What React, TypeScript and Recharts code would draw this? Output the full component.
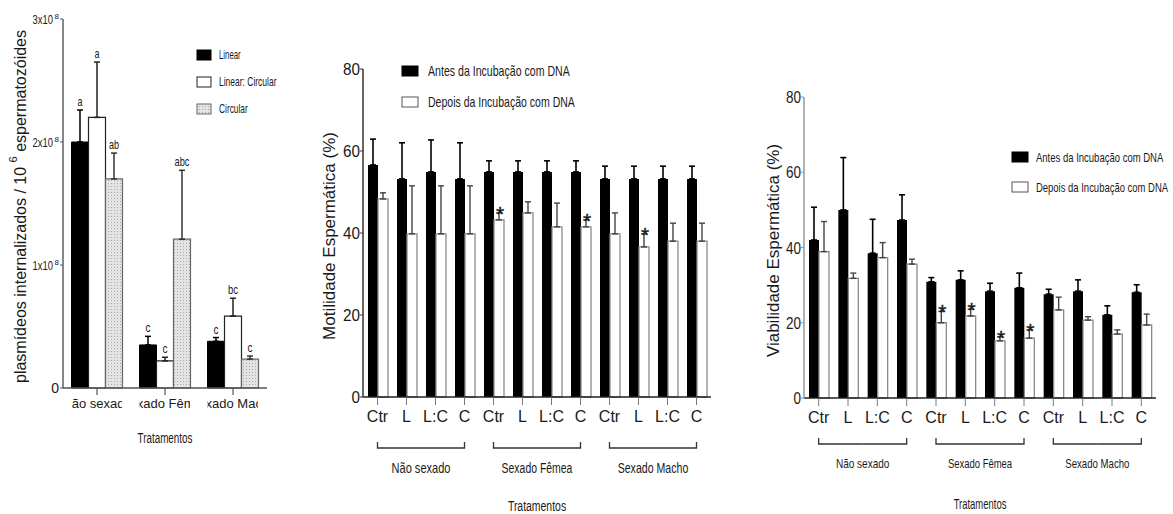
import React from "react";
import { BarChart, Bar, XAxis, YAxis, ErrorBar, LabelList, Legend, Label } from "recharts";

const FONT = "'Liberation Sans', Arial, Helvetica, sans-serif";
const INK = "#1a1a1a";

// ---------- Panel 1 data ----------
const groups1 = ["Não sexado", "Sexado Fêmea", "Sexado Macho"];
const series1 = ["Linear", "Linear: Circular", "Circular"];
const linearVals = [2.0e8, 0.35e8, 0.38e8];
const linearErr = [0.26e8, 0.07e8, 0.03e8];
const linearLetters = ["a", "c", "c"];
const linCircVals = [2.2e8, 0.22e8, 0.585e8];
const linCircErr = [0.45e8, 0.03e8, 0.145e8];
const linCircLetters = ["a", "c", "bc"];
const circVals = [1.7e8, 1.21e8, 0.235e8];
const circErr = [0.21e8, 0.56e8, 0.025e8];
const circLetters = ["ab", "abc", "c"];
const yTicks1 = [0, 1e8, 2e8, 3e8];

// ---------- Panels 2 & 3 data ----------
const treatments = ["Ctr", "L", "L:C", "C", "Ctr", "L", "L:C", "C", "Ctr", "L", "L:C", "C"];
const sexGroups = ["Não sexado", "Sexado Fêmea", "Sexado Macho"];
const series2 = ["Antes da Incubação com DNA", "Depois da Incubação com DNA"];
const pctTicks = [0, 20, 40, 60, 80];

const motAntes = [56.6, 53.2, 54.9, 53.2, 54.9, 54.9, 54.9, 54.9, 53.2, 53.2, 53.2, 53.2];
const motAntesErr = [6.3, 8.8, 7.8, 8.8, 2.7, 2.7, 2.7, 2.7, 3.1, 3.1, 3.1, 3.1];
const motDepois = [48.3, 39.8, 39.8, 39.8, 43.2, 44.9, 41.5, 41.5, 39.8, 36.6, 38.0, 38.0];
const motDepoisErr = [1.5, 11.7, 11.7, 11.7, 1.7, 2.7, 5.8, 1.7, 5.1, 3.2, 4.4, 4.4];
const motSig = ["", "", "", "", "*", "", "", "*", "", "*", "", ""];

const viaAntes = [42.0, 50.0, 38.5, 47.3, 30.9, 31.4, 28.4, 29.3, 27.6, 28.4, 22.1, 28.1];
const viaAntesErr = [8.7, 13.9, 9.0, 6.7, 1.1, 2.4, 2.1, 3.9, 1.3, 3.0, 2.4, 2.0];
const viaDepois = [38.9, 31.8, 37.3, 35.6, 20.0, 21.8, 15.2, 15.9, 23.4, 20.7, 17.0, 19.4];
const viaDepoisErr = [8.0, 1.4, 4.0, 1.3, 3.0, 1.8, 1.1, 2.2, 3.4, 0.9, 1.1, 2.9];
const viaSig = ["", "", "", "", "*", "*", "*", "*", "", "", "", ""];

const data1 = groups1.map((g, i) => ({
  group: g,
  linear: linearVals[i],
  linearE: [0, linearErr[i]],
  linearL: linearLetters[i],
  linCirc: linCircVals[i],
  linCircE: [0, linCircErr[i]],
  linCircL: linCircLetters[i],
  circ: circVals[i],
  circE: [0, circErr[i]],
  circL: circLetters[i],
}));

const mkData = (a: number[], ae: number[], d: number[], de: number[], s: string[]) =>
  treatments.map((t, i) => ({
    treat: t,
    antes: a[i],
    antesE: [0, ae[i]],
    depois: d[i],
    depoisE: [0, de[i]],
    sig: s[i],
  }));
const data2 = mkData(motAntes, motAntesErr, motDepois, motDepoisErr, motSig);
const data3 = mkData(viaAntes, viaAntesErr, viaDepois, viaDepoisErr, viaSig);

// ---------- helpers ----------
let measureCtx: CanvasRenderingContext2D | null = null;
function measure(text: string, size: number) {
  try {
    if (!measureCtx) measureCtx = document.createElement("canvas").getContext("2d");
    if (measureCtx) {
      measureCtx.font = `${size}px 'Liberation Sans', Arial, sans-serif`;
      return measureCtx.measureText(text).width;
    }
  } catch (e) {
    /* ignore */
  }
  return text.length * size * 0.52;
}

// horizontally condensed text (the original figure uses a very narrow rendering)
function SqText({ x, y, text, k, size, anchor = "start", fill = INK }: any) {
  const natural = measure(text, size);
  const s = Math.min(1, (text.length * k) / natural);
  return (
    <text
      transform={`translate(${x} ${y}) scale(${s.toFixed(3)} 1)`}
      x={0}
      y={0}
      fontSize={size}
      fontFamily={FONT}
      textAnchor={anchor}
      fill={fill}
    >
      {text}
    </text>
  );
}

const geom = (props: any) => {
  const vb = props.viewBox || {};
  return {
    x: Number(props.x ?? vb.x),
    y: Number(props.y ?? vb.y),
    w: Number(props.width ?? vb.width),
    h: Number(props.height ?? vb.height),
  };
};

const makeTopLabel = (vals: number[], errs: number[], kind: "letter" | "star") => (props: any) => {
  const i = props.index;
  const val = props.value;
  if (!val || i == null) return null;
  const { x, y, w, h } = geom(props);
  const v = vals[i];
  const e = errs[i];
  const top = y - e * (Math.abs(h) / v);
  if (kind === "star") {
    return (
      <text
        x={x + w / 2 + 1}
        y={top + 8}
        textAnchor="middle"
        fontSize={21}
        fontFamily={FONT}
        fill={INK}
        stroke={INK}
        strokeWidth={0.4}
      >
        *
      </text>
    );
  }
  return <SqText x={x + w / 2} y={top - 4} text={String(val)} k={5} size={12} anchor="middle" />;
};

// ---------- Panel 1 ticks ----------
const GroupTick1 = (props: any) => {
  const { x, y, payload, index } = props;
  const id = `p1clip${index}`;
  return (
    <g>
      <defs>
        <clipPath id={id}>
          <rect x={x - 25.5} y={y - 2} width={50.5} height={20} />
        </clipPath>
      </defs>
      <text x={x} y={y + 11} textAnchor="middle" fontSize={13} fontFamily={FONT} fill={INK} clipPath={`url(#${id})`}>
        {payload.value}
      </text>
    </g>
  );
};

const YTick1 = (props: any) => {
  const { x, y, payload } = props;
  const v = payload.value;
  if (v === 0) {
    return (
      <text x={x - 1} y={y + 5} textAnchor="end" fontSize={14} fontFamily={FONT} fill={INK}>
        0
      </text>
    );
  }
  const m = Math.round(v / 1e8);
  return (
    <g>
      <SqText x={x - 7} y={y + 5} text={`${m}x10`} k={5.1} size={13} anchor="end" />
      <text x={x - 5.5} y={y + 0} fontSize={8} fontFamily={FONT} fill={INK}>
        8
      </text>
    </g>
  );
};

const makePctTick = (k: number, size: number) => (props: any) => {
  const { x, y, payload } = props;
  const t = String(payload.value);
  return <SqText x={x} y={y + 6} text={t} k={k} size={size} anchor="end" />;
};

const makeTreatTick = (band: number, o: any) => (props: any) => {
  const { x, y, payload, index } = props;
  const kk = index % 4;
  const g = Math.floor(index / 4);
  const half = band * 1.5;
  return (
    <g>
      <text x={x} y={y + o.label} textAnchor="middle" fontSize={16} fontFamily={FONT} fill={INK}>
        {payload.value}
      </text>
      {kk === 0 && (
        <path
          d={`M${x},${y + o.bracketUp}V${y + o.bracket}H${x + half}`}
          stroke="#333"
          strokeWidth={1.3}
          fill="none"
        />
      )}
      {kk === 3 && (
        <path
          d={`M${x},${y + o.bracketUp}V${y + o.bracket}H${x - half}`}
          stroke="#333"
          strokeWidth={1.3}
          fill="none"
        />
      )}
      {kk === 1 && <SqText x={x + band / 2} y={y + o.group} text={sexGroups[g]} k={o.gk} size={o.gsize} anchor="middle" />}
    </g>
  );
};

// ---------- Legends ----------
const fills1 = ["#000", "#fff", "url(#dots)"];
const strokes1 = ["#000", "#222", "#666"];

const Legend1 = () => (
  <svg width={100} height={80} style={{ overflow: "visible" }}>
    {series1.map((s, i) => (
      <g key={s}>
        <rect x={1} y={1 + i * 27} width={14} height={10} fill={fills1[i]} stroke={strokes1[i]} strokeWidth={1} />
        <SqText x={23} y={10 + i * 27} text={s} k={3.6} size={12} />
      </g>
    ))}
  </svg>
);

const makeLegend2 = (gap: number, tx: number, k: number, size: number, w: number) => () => (
  <svg width={w} height={gap + 20} style={{ overflow: "visible" }}>
    {series2.map((s, i) => (
      <g key={s}>
        <rect
          x={1}
          y={1 + i * gap}
          width={16}
          height={10}
          fill={i === 0 ? "#000" : "#fff"}
          stroke={i === 0 ? "#000" : "#555"}
          strokeWidth={1}
        />
        <SqText x={tx} y={11 + i * gap} text={s} k={k} size={size} />
      </g>
    ))}
  </svg>
);

// ---------- Charts ----------
function Chart1() {
  return (
    <BarChart
      width={300}
      height={514}
      data={data1}
      margin={{ top: 19, right: 33, bottom: 10, left: 0 }}
      barGap={0}
      barCategoryGap="12.5%"
    >
      <defs>
        <pattern id="dots" width="3" height="3" patternUnits="userSpaceOnUse">
          <rect width="3" height="3" fill="#e4e4e4" />
          <rect width="1" height="1" fill="#a8a8a8" />
        </pattern>
      </defs>
      <XAxis
        dataKey="group"
        height={116}
        interval={0}
        tickSize={7}
        tickMargin={2}
        axisLine={{ stroke: "#555", strokeWidth: 1.4 }}
        tickLine={{ stroke: "#555", strokeWidth: 1.2 }}
        tick={GroupTick1}
      >
        <Label
          content={(p: any) => {
            const vb = p.viewBox || { x: 63, y: 388, width: 204 };
            return <SqText x={vb.x + vb.width / 2} y={vb.y + 55} text="Tratamentos" k={5} size={15} anchor="middle" />;
          }}
        />
      </XAxis>
      <YAxis
        width={63}
        domain={[0, 3e8]}
        ticks={yTicks1}
        tickSize={3}
        tickMargin={0}
        axisLine={{ stroke: "#555", strokeWidth: 1.4 }}
        tickLine={{ stroke: "#555" }}
        tick={YTick1}
      >
        <Label
          content={(p: any) => {
            const vb = p.viewBox || { y: 19, height: 369 };
            const cx = 20;
            const cy = vb.y + vb.height / 2 + 3;
            return (
              <text
                transform={`rotate(-90 ${cx} ${cy})`}
                x={cx}
                y={cy}
                textAnchor="middle"
                dominantBaseline="central"
                fontSize={16}
                fontFamily={FONT}
                fill={INK}
              >
                plasmídeos internalizados / 10{" "}
                <tspan dy={-7} fontSize={11}>
                  6
                </tspan>
                <tspan dy={7}> espermatozóides</tspan>
              </text>
            );
          }}
        />
      </YAxis>
      <Legend
        layout="vertical"
        align="center"
        verticalAlign="middle"
        wrapperStyle={{ left: 196, top: 49, width: 100, height: 80 }}
        content={() => <Legend1 />}
      />
      <Bar dataKey="linear" name={series1[0]} fill="#000" stroke="#000" isAnimationActive={false}>
        <ErrorBar dataKey="linearE" width={3} stroke="#000" strokeWidth={1.5} isAnimationActive={false} />
        <LabelList dataKey="linearL" content={makeTopLabel(linearVals, linearErr, "letter")} />
      </Bar>
      <Bar dataKey="linCirc" name={series1[1]} fill="#fff" stroke="#222" strokeWidth={1.2} isAnimationActive={false}>
        <ErrorBar dataKey="linCircE" width={3} stroke="#222" strokeWidth={1.5} isAnimationActive={false} />
        <LabelList dataKey="linCircL" content={makeTopLabel(linCircVals, linCircErr, "letter")} />
      </Bar>
      <Bar dataKey="circ" name={series1[2]} fill="url(#dots)" stroke="#666" strokeWidth={1.2} isAnimationActive={false}>
        <ErrorBar dataKey="circE" width={3} stroke="#333" strokeWidth={1.5} isAnimationActive={false} />
        <LabelList dataKey="circL" content={makeTopLabel(circVals, circErr, "letter")} />
      </Bar>
    </BarChart>
  );
}

function PctChart({
  data,
  width,
  margin,
  yWidth,
  xHeight,
  band,
  tickOpts,
  yLabel,
  yLabelX,
  yAxisStroke,
  tickK,
  tickSize,
  titleDy,
  titleK,
  titleSize,
  legendPos,
  legendContent,
  depoisVals,
  depoisErr,
}: any) {
  return (
    <BarChart width={width} height={514} data={data} margin={margin} barGap={0} barSize={10}>
      <XAxis
        dataKey="treat"
        height={xHeight}
        interval={0}
        tickSize={8}
        tickMargin={2}
        axisLine={{ stroke: "#222", strokeWidth: 1.4 }}
        tickLine={{ stroke: "#777", strokeWidth: 1 }}
        tick={makeTreatTick(band, tickOpts)}
      >
        <Label
          content={(p: any) => {
            const vb = p.viewBox || {};
            return (
              <SqText x={vb.x + vb.width / 2} y={vb.y + titleDy} text="Tratamentos" k={titleK} size={titleSize} anchor="middle" />
            );
          }}
        />
      </XAxis>
      <YAxis
        width={yWidth}
        domain={[0, 80]}
        ticks={pctTicks}
        tickSize={3}
        tickMargin={0}
        axisLine={{ stroke: yAxisStroke, strokeWidth: 1.5 }}
        tickLine={{ stroke: yAxisStroke }}
        tick={makePctTick(tickK, tickSize)}
      >
        <Label
          content={(p: any) => {
            const vb = p.viewBox || {};
            const cx = yLabelX;
            const cy = vb.y + vb.height / 2 + 3;
            return (
              <text
                transform={`rotate(-90 ${cx} ${cy})`}
                x={cx}
                y={cy}
                textAnchor="middle"
                dominantBaseline="central"
                fontSize={17}
                fontFamily={FONT}
                fill={INK}
              >
                {yLabel}
              </text>
            );
          }}
        />
      </YAxis>
      <Legend layout="vertical" align="center" verticalAlign="middle" wrapperStyle={legendPos} content={legendContent} />
      <Bar dataKey="antes" name={series2[0]} fill="#000" isAnimationActive={false}>
        <ErrorBar dataKey="antesE" width={3} stroke="#000" strokeWidth={1.6} isAnimationActive={false} />
      </Bar>
      <Bar dataKey="depois" name={series2[1]} fill="#fff" stroke="#8a8a8a" strokeWidth={1.3} isAnimationActive={false}>
        <ErrorBar dataKey="depoisE" width={3} stroke="#444" strokeWidth={1.4} isAnimationActive={false} />
        <LabelList dataKey="sig" content={makeTopLabel(depoisVals, depoisErr, "star")} />
      </Bar>
    </BarChart>
  );
}

export default function App() {
  return (
    <div
      style={{
        position: "absolute",
        left: 0,
        top: 0,
        width: 1173,
        height: 514,
        background: "#fff",
        fontFamily: FONT,
      }}
    >
      <div style={{ position: "absolute", left: 0, top: 0 }}>
        <Chart1 />
      </div>
      <div style={{ position: "absolute", left: 260, top: 0 }}>
        <PctChart
          data={data2}
          width={480}
          margin={{ top: 69, right: 29, bottom: 5, left: 0 }}
          yWidth={103}
          xHeight={112}
          band={29}
          tickOpts={{ label: 15, bracket: 41, bracketUp: 35, group: 66, gk: 5.9, gsize: 14 }}
          yLabel="Motilidade Espermática (%)"
          yLabelX={69}
          yAxisStroke="#333"
          tickK={8.5}
          tickSize={17}
          titleDy={114}
          titleK={5.3}
          titleSize={15}
          legendPos={{ left: 141, top: 65, width: 180, height: 52 }}
          legendContent={makeLegend2(31, 27, 5.45, 14, 180)}
          depoisVals={motDepois}
          depoisErr={motDepoisErr}
        />
      </div>
      <div style={{ position: "absolute", left: 740, top: 0 }}>
        <PctChart
          data={data3}
          width={433}
          margin={{ top: 97, right: 17, bottom: 5, left: 0 }}
          yWidth={64}
          xHeight={111}
          band={352 / 12}
          tickOpts={{ label: 15, bracket: 36, bracketUp: 30, group: 60, gk: 5.35, gsize: 13 }}
          yLabel="Viabilidade Espermática (%)"
          yLabelX={33}
          yAxisStroke="#999"
          tickK={7.5}
          tickSize={16}
          titleDy={111}
          titleK={4.8}
          titleSize={14}
          legendPos={{ left: 271, top: 151, width: 158, height: 50 }}
          legendContent={makeLegend2(30, 25, 4.9, 13, 158)}
          depoisVals={viaDepois}
          depoisErr={viaDepoisErr}
        />
      </div>
    </div>
  );
}
